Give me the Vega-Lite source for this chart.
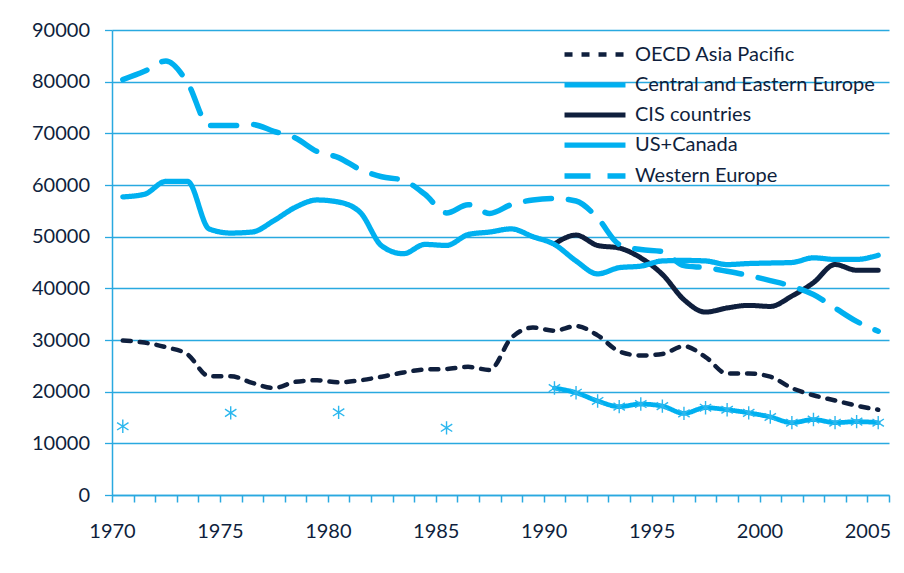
{
  "$schema": "https://vega.github.io/schema/vega-lite/v6.json",
  "width": 777,
  "height": 465,
  "autosize": {"type": "none"},
  "padding": {"left": 112, "top": 30, "right": 15, "bottom": 78},
  "background": "white",
  "config": {"view": {"stroke": null}, "font": "Lato"},
  "data": {
    "values": [
      {"year": 1970, "series": "OECD Asia Pacific", "value": 29900},
      {"year": 1971, "series": "OECD Asia Pacific", "value": 29500},
      {"year": 1972, "series": "OECD Asia Pacific", "value": 28600},
      {"year": 1973, "series": "OECD Asia Pacific", "value": 27200},
      {"year": 1974, "series": "OECD Asia Pacific", "value": 23000},
      {"year": 1975, "series": "OECD Asia Pacific", "value": 23000},
      {"year": 1976, "series": "OECD Asia Pacific", "value": 21700},
      {"year": 1977, "series": "OECD Asia Pacific", "value": 20700},
      {"year": 1978, "series": "OECD Asia Pacific", "value": 21900},
      {"year": 1979, "series": "OECD Asia Pacific", "value": 22200},
      {"year": 1980, "series": "OECD Asia Pacific", "value": 21800},
      {"year": 1981, "series": "OECD Asia Pacific", "value": 22200},
      {"year": 1982, "series": "OECD Asia Pacific", "value": 22900},
      {"year": 1983, "series": "OECD Asia Pacific", "value": 23700},
      {"year": 1984, "series": "OECD Asia Pacific", "value": 24300},
      {"year": 1985, "series": "OECD Asia Pacific", "value": 24400},
      {"year": 1986, "series": "OECD Asia Pacific", "value": 24800},
      {"year": 1987, "series": "OECD Asia Pacific", "value": 24200},
      {"year": 1988, "series": "OECD Asia Pacific", "value": 30400},
      {"year": 1989, "series": "OECD Asia Pacific", "value": 32400},
      {"year": 1990, "series": "OECD Asia Pacific", "value": 31800},
      {"year": 1991, "series": "OECD Asia Pacific", "value": 32700},
      {"year": 1992, "series": "OECD Asia Pacific", "value": 30900},
      {"year": 1993, "series": "OECD Asia Pacific", "value": 27800},
      {"year": 1994, "series": "OECD Asia Pacific", "value": 27000},
      {"year": 1995, "series": "OECD Asia Pacific", "value": 27300},
      {"year": 1996, "series": "OECD Asia Pacific", "value": 28800},
      {"year": 1997, "series": "OECD Asia Pacific", "value": 26700},
      {"year": 1998, "series": "OECD Asia Pacific", "value": 23500},
      {"year": 1999, "series": "OECD Asia Pacific", "value": 23500},
      {"year": 2000, "series": "OECD Asia Pacific", "value": 22900},
      {"year": 2001, "series": "OECD Asia Pacific", "value": 20700},
      {"year": 2002, "series": "OECD Asia Pacific", "value": 19300},
      {"year": 2003, "series": "OECD Asia Pacific", "value": 18300},
      {"year": 2004, "series": "OECD Asia Pacific", "value": 17300},
      {"year": 2005, "series": "OECD Asia Pacific", "value": 16500},
      {"year": 1970, "series": "Central and Eastern Europe", "value": 13300},
      {"year": 1975, "series": "Central and Eastern Europe", "value": 15900},
      {"year": 1980, "series": "Central and Eastern Europe", "value": 16000},
      {"year": 1985, "series": "Central and Eastern Europe", "value": 13000},
      {"year": 1990, "series": "Central and Eastern Europe", "value": 20700},
      {"year": 1991, "series": "Central and Eastern Europe", "value": 19800},
      {"year": 1992, "series": "Central and Eastern Europe", "value": 18200},
      {"year": 1993, "series": "Central and Eastern Europe", "value": 17100},
      {"year": 1994, "series": "Central and Eastern Europe", "value": 17600},
      {"year": 1995, "series": "Central and Eastern Europe", "value": 17200},
      {"year": 1996, "series": "Central and Eastern Europe", "value": 15800},
      {"year": 1997, "series": "Central and Eastern Europe", "value": 16900},
      {"year": 1998, "series": "Central and Eastern Europe", "value": 16500},
      {"year": 1999, "series": "Central and Eastern Europe", "value": 15900},
      {"year": 2000, "series": "Central and Eastern Europe", "value": 15100},
      {"year": 2001, "series": "Central and Eastern Europe", "value": 14000},
      {"year": 2002, "series": "Central and Eastern Europe", "value": 14600},
      {"year": 2003, "series": "Central and Eastern Europe", "value": 14000},
      {"year": 2004, "series": "Central and Eastern Europe", "value": 14200},
      {"year": 2005, "series": "Central and Eastern Europe", "value": 14000},
      {"year": 1990, "series": "CIS countries", "value": 48600},
      {"year": 1991, "series": "CIS countries", "value": 50300},
      {"year": 1992, "series": "CIS countries", "value": 48300},
      {"year": 1993, "series": "CIS countries", "value": 47800},
      {"year": 1994, "series": "CIS countries", "value": 45900},
      {"year": 1995, "series": "CIS countries", "value": 42700},
      {"year": 1996, "series": "CIS countries", "value": 37800},
      {"year": 1997, "series": "CIS countries", "value": 35400},
      {"year": 1998, "series": "CIS countries", "value": 36200},
      {"year": 1999, "series": "CIS countries", "value": 36700},
      {"year": 2000, "series": "CIS countries", "value": 36500},
      {"year": 2001, "series": "CIS countries", "value": 38500},
      {"year": 2002, "series": "CIS countries", "value": 41100},
      {"year": 2003, "series": "CIS countries", "value": 44600},
      {"year": 2004, "series": "CIS countries", "value": 43500},
      {"year": 2005, "series": "CIS countries", "value": 43500},
      {"year": 1970, "series": "US+Canada", "value": 57700},
      {"year": 1971, "series": "US+Canada", "value": 58200},
      {"year": 1972, "series": "US+Canada", "value": 60700},
      {"year": 1973, "series": "US+Canada", "value": 60700},
      {"year": 1974, "series": "US+Canada", "value": 51500},
      {"year": 1975, "series": "US+Canada", "value": 50700},
      {"year": 1976, "series": "US+Canada", "value": 50900},
      {"year": 1977, "series": "US+Canada", "value": 53100},
      {"year": 1978, "series": "US+Canada", "value": 55700},
      {"year": 1979, "series": "US+Canada", "value": 57100},
      {"year": 1980, "series": "US+Canada", "value": 56700},
      {"year": 1981, "series": "US+Canada", "value": 54700},
      {"year": 1982, "series": "US+Canada", "value": 48200},
      {"year": 1983, "series": "US+Canada", "value": 46700},
      {"year": 1984, "series": "US+Canada", "value": 48500},
      {"year": 1985, "series": "US+Canada", "value": 48300},
      {"year": 1986, "series": "US+Canada", "value": 50400},
      {"year": 1987, "series": "US+Canada", "value": 50900},
      {"year": 1988, "series": "US+Canada", "value": 51500},
      {"year": 1989, "series": "US+Canada", "value": 50000},
      {"year": 1990, "series": "US+Canada", "value": 48500},
      {"year": 1991, "series": "US+Canada", "value": 45300},
      {"year": 1992, "series": "US+Canada", "value": 42800},
      {"year": 1993, "series": "US+Canada", "value": 44000},
      {"year": 1994, "series": "US+Canada", "value": 44300},
      {"year": 1995, "series": "US+Canada", "value": 45300},
      {"year": 1996, "series": "US+Canada", "value": 45400},
      {"year": 1997, "series": "US+Canada", "value": 45300},
      {"year": 1998, "series": "US+Canada", "value": 44600},
      {"year": 1999, "series": "US+Canada", "value": 44800},
      {"year": 2000, "series": "US+Canada", "value": 44900},
      {"year": 2001, "series": "US+Canada", "value": 45000},
      {"year": 2002, "series": "US+Canada", "value": 45900},
      {"year": 2003, "series": "US+Canada", "value": 45600},
      {"year": 2004, "series": "US+Canada", "value": 45600},
      {"year": 2005, "series": "US+Canada", "value": 46400},
      {"year": 1970, "series": "Western Europe", "value": 80400},
      {"year": 1971, "series": "Western Europe", "value": 82000},
      {"year": 1972, "series": "Western Europe", "value": 84000},
      {"year": 1973, "series": "Western Europe", "value": 79800},
      {"year": 1974, "series": "Western Europe", "value": 71500},
      {"year": 1975, "series": "Western Europe", "value": 71500},
      {"year": 1976, "series": "Western Europe", "value": 71700},
      {"year": 1977, "series": "Western Europe", "value": 70400},
      {"year": 1978, "series": "Western Europe", "value": 69100},
      {"year": 1979, "series": "Western Europe", "value": 66500},
      {"year": 1980, "series": "Western Europe", "value": 65300},
      {"year": 1981, "series": "Western Europe", "value": 63000},
      {"year": 1982, "series": "Western Europe", "value": 61600},
      {"year": 1983, "series": "Western Europe", "value": 60900},
      {"year": 1984, "series": "Western Europe", "value": 58200},
      {"year": 1985, "series": "Western Europe", "value": 54600},
      {"year": 1986, "series": "Western Europe", "value": 56200},
      {"year": 1987, "series": "Western Europe", "value": 54500},
      {"year": 1988, "series": "Western Europe", "value": 56200},
      {"year": 1989, "series": "Western Europe", "value": 57100},
      {"year": 1990, "series": "Western Europe", "value": 57400},
      {"year": 1991, "series": "Western Europe", "value": 56900},
      {"year": 1992, "series": "Western Europe", "value": 53600},
      {"year": 1993, "series": "Western Europe", "value": 48500},
      {"year": 1994, "series": "Western Europe", "value": 47500},
      {"year": 1995, "series": "Western Europe", "value": 47100},
      {"year": 1996, "series": "Western Europe", "value": 44400},
      {"year": 1997, "series": "Western Europe", "value": 44000},
      {"year": 1998, "series": "Western Europe", "value": 43300},
      {"year": 1999, "series": "Western Europe", "value": 42500},
      {"year": 2000, "series": "Western Europe", "value": 41500},
      {"year": 2001, "series": "Western Europe", "value": 40400},
      {"year": 2002, "series": "Western Europe", "value": 38800},
      {"year": 2003, "series": "Western Europe", "value": 36200},
      {"year": 2004, "series": "Western Europe", "value": 33600},
      {"year": 2005, "series": "Western Europe", "value": 31700}
    ]
  },
  "encoding": {
    "x": {
      "field": "year",
      "type": "quantitative",
      "scale": {"domain": [1969.5, 2005.5], "nice": false, "zero": false},
      "axis": {
        "title": null,
        "values": [1969.5, 1970.5, 1971.5, 1972.5, 1973.5, 1974.5, 1975.5, 1976.5, 1977.5, 1978.5, 1979.5, 1980.5, 1981.5, 1982.5, 1983.5, 1984.5, 1985.5, 1986.5, 1987.5, 1988.5, 1989.5, 1990.5, 1991.5, 1992.5, 1993.5, 1994.5, 1995.5, 1996.5, 1997.5, 1998.5, 1999.5, 2000.5, 2001.5, 2002.5, 2003.5, 2004.5, 2005.5],
        "labelExpr": "(datum.value + 0.5) % 5 == 0 ? '' + (datum.value + 0.5) : ''",
        "labelDx": 10.8,
        "labelFlush": false,
        "labelOverlap": false,
        "labelFont": "Lato",
        "labelFontSize": 20,
        "labelColor": "#0F1F3D",
        "labelPadding": 19,
        "grid": false,
        "tickSize": 7,
        "tickColor": "#29A9E0",
        "tickWidth": 1.5,
        "domainColor": "#29A9E0",
        "domainWidth": 1.5
      }
    },
    "y": {
      "field": "value",
      "type": "quantitative",
      "scale": {"domain": [0, 90000], "nice": false},
      "axis": {
        "title": null,
        "values": [0, 10000, 20000, 30000, 40000, 50000, 60000, 70000, 80000, 90000],
        "format": "d",
        "labelFont": "Lato",
        "labelFontSize": 20,
        "labelColor": "#0F1F3D",
        "labelPadding": 15,
        "grid": true,
        "gridColor": "#29A9E0",
        "gridWidth": 1.3,
        "tickSize": 7.5,
        "tickColor": "#29A9E0",
        "tickWidth": 1.3,
        "domainColor": "#29A9E0",
        "domainWidth": 1.5
      }
    }
  },
  "layer": [
    {
      "transform": [{"filter": "datum.series != 'Central and Eastern Europe' || datum.year >= 1990"}],
      "mark": {"type": "line", "interpolate": "monotone", "strokeCap": "round", "strokeJoin": "round"},
      "encoding": {
        "color": {
          "field": "series",
          "type": "nominal",
          "scale": {
            "domain": ["OECD Asia Pacific", "Central and Eastern Europe", "CIS countries", "US+Canada", "Western Europe"],
            "range": ["#0F1F3D", "#00B0F0", "#0F1F3D", "#00B0F0", "#00B0F0"]
          },
          "legend": {"orient": "none", "legendX": 470, "legendY": 12, "title": null, "symbolType": "M-3,0L3,0", "symbolSize": 413, "labelFont": "Lato", "labelFontSize": 20, "labelColor": "#0F1F3D", "labelOffset": 27, "rowPadding": 7, "labelLimit": 400}
        },
        "strokeDash": {
          "field": "series",
          "type": "nominal",
          "scale": {
            "domain": ["OECD Asia Pacific", "Central and Eastern Europe", "CIS countries", "US+Canada", "Western Europe"],
            "range": [[8, 9], [1, 0], [1, 0], [1, 0], [26, 17]]
          },
          "legend": {"orient": "none", "legendX": 470, "legendY": 12, "title": null, "symbolType": "M-3,0L3,0", "symbolSize": 413, "labelFont": "Lato", "labelFontSize": 20, "labelColor": "#0F1F3D", "labelOffset": 27, "rowPadding": 7, "labelLimit": 400}
        },
        "strokeWidth": {
          "field": "series",
          "type": "nominal",
          "scale": {
            "domain": ["OECD Asia Pacific", "Central and Eastern Europe", "CIS countries", "US+Canada", "Western Europe"],
            "range": [4.5, 5.5, 3, 4.5, 4]
          },
          "legend": {"orient": "none", "legendX": 470, "legendY": 12, "title": null, "symbolType": "M-3,0L3,0", "symbolSize": 413, "labelFont": "Lato", "labelFontSize": 20, "labelColor": "#0F1F3D", "labelOffset": 27, "rowPadding": 7, "labelLimit": 400}
        }
      }
    },
    {
      "transform": [{"filter": "datum.series == 'Central and Eastern Europe'"}],
      "mark": {
        "type": "point",
        "shape": "M0,-1L0,1M-0.85,-0.55L0.85,0.55M-0.85,0.55L0.85,-0.55",
        "filled": false,
        "stroke": "#2BB7EE",
        "strokeWidth": 1.4,
        "size": 180,
        "opacity": 1
      },
      "encoding": {}
    }
  ]
}
